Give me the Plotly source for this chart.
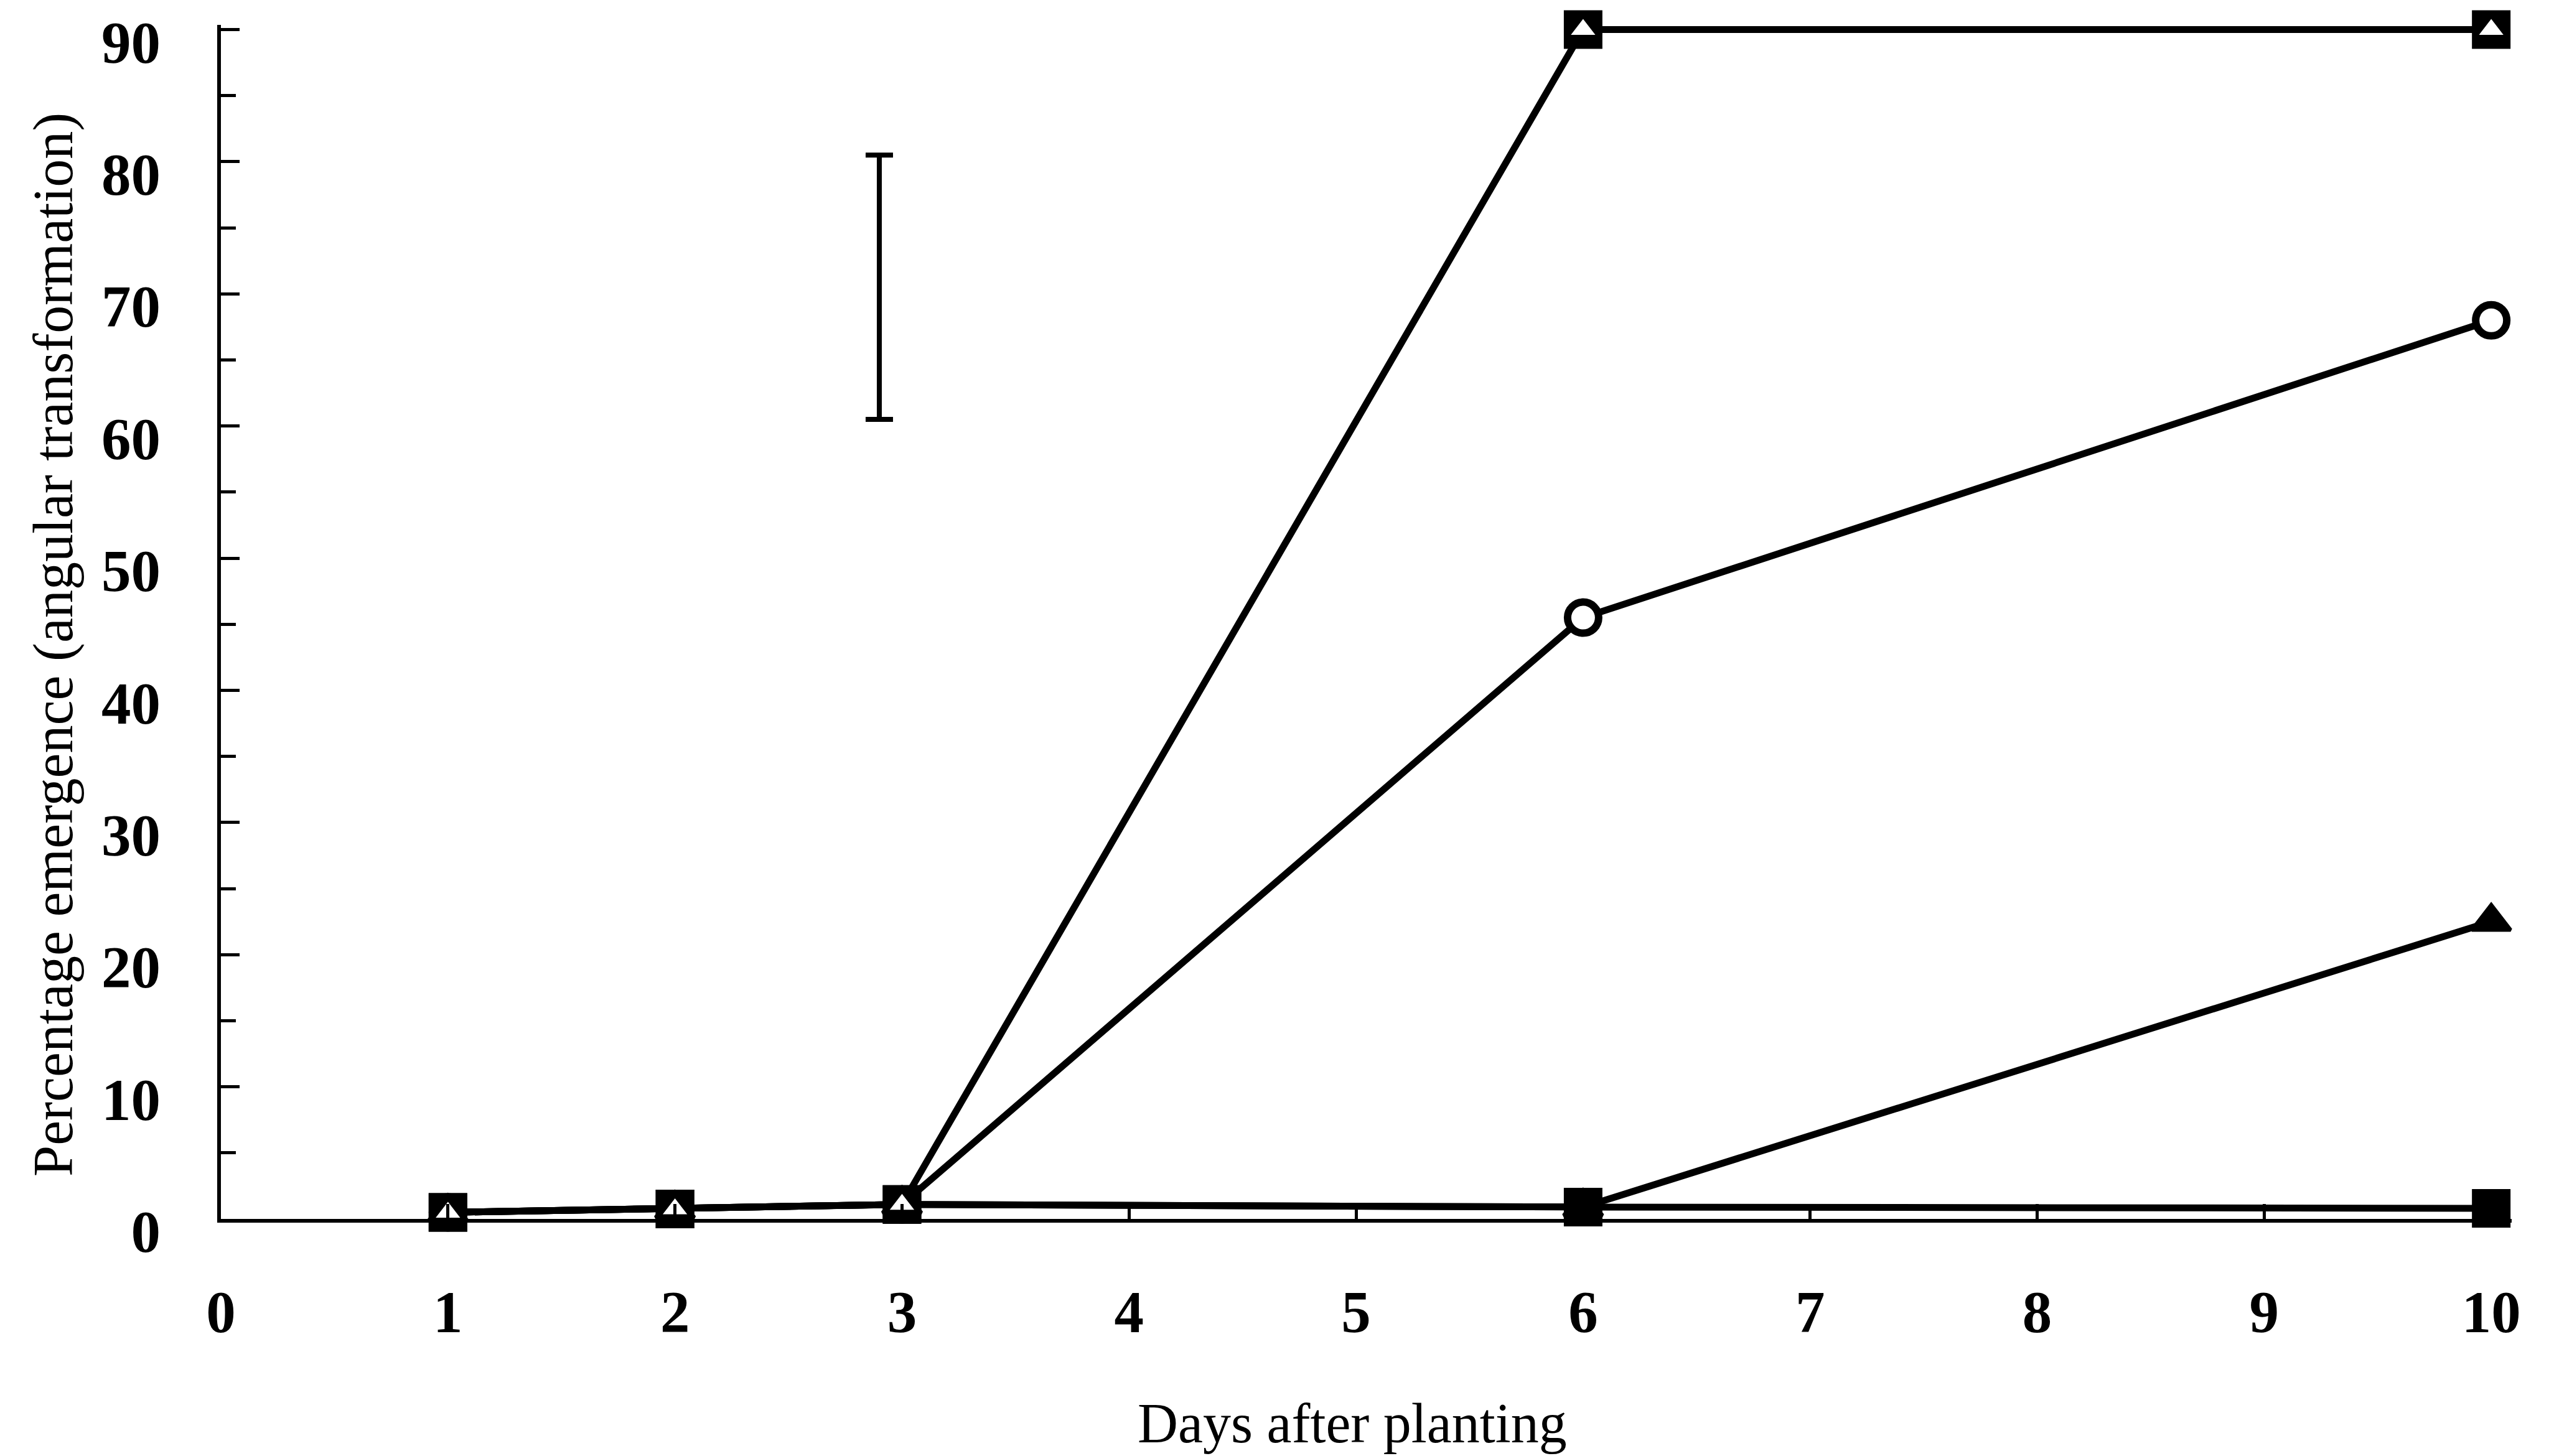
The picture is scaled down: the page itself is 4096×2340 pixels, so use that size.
import plotly.graph_objects as go

# ---- data ----
days = [1, 2, 3, 6, 10]
open_circle = [0.5, 0.75, 1.1, 45.5, 68.0]
filled_triangle = [0.5, 0.75, 1.1, 0.9, 22.5]
filled_square = [0.5, 0.75, 1.1, 0.9, 0.8]
open_square = [0.5, 0.75, 1.1, 90.0, 90.0]
open_triangle = [0.5, 0.75, 1.1, 90.0, 90.0]

lsd_x = [2.9]
lsd_mid = [70.5]
lsd_half = [10.0]

x_ticks = list(range(0, 11))
y_ticks = list(range(0, 91, 10))
y_minor = list(range(5, 90, 10))

x_title = "Days after planting"
y_title = "Percentage emergence (angular transformation)"

FONT = "Liberation Serif"
LW = 11

fig = go.Figure()

fig.add_trace(go.Scatter(
    x=days, y=open_circle, mode="lines+markers", name="○",
    line=dict(color="black", width=LW),
    marker=dict(symbol="circle", size=50, color="white",
                line=dict(color="black", width=12)),
    cliponaxis=False))

fig.add_trace(go.Scatter(
    x=days, y=filled_triangle, mode="lines+markers", name="▲",
    line=dict(color="black", width=LW),
    marker=dict(symbol="triangle-up", size=54, color="black",
                line=dict(color="black", width=6)),
    cliponaxis=False))

fig.add_trace(go.Scatter(
    x=days, y=filled_square, mode="lines+markers", name="■",
    line=dict(color="black", width=LW),
    marker=dict(symbol="square", size=60, color="black",
                line=dict(color="black", width=2)),
    cliponaxis=False))

fig.add_trace(go.Scatter(
    x=days, y=open_square, mode="lines+markers", name="□",
    line=dict(color="black", width=LW),
    marker=dict(symbol="square", size=24, color="white",
                line=dict(color="black", width=38)),
    cliponaxis=False))

fig.add_trace(go.Scatter(
    x=days, y=open_triangle, mode="markers", name="△",
    marker=dict(symbol="triangle-up", size=34, color="white",
                line=dict(color="white", width=0)),
    cliponaxis=False))

fig.add_trace(go.Scatter(
    x=lsd_x, y=lsd_mid, mode="markers", name="LSD",
    marker=dict(size=1, color="rgba(0,0,0,0)"),
    error_y=dict(type="data", array=lsd_half, visible=True,
                 color="black", thickness=8, width=22),
    cliponaxis=False))

tick_font = dict(family=FONT, size=95, color="black", weight="bold")

fig.update_layout(
    width=4096, height=2340,
    margin=dict(l=355, r=60, t=40, b=381, autoexpand=False),
    paper_bgcolor="white", plot_bgcolor="white",
    showlegend=False,
    xaxis=dict(
        range=[0, 10.09], tickmode="array", tickvals=x_ticks,
        ticktext=[str(v) for v in x_ticks],
        ticks="inside", ticklen=24, tickwidth=5, tickcolor="black",
        showline=True, linewidth=6, linecolor="black",
        showgrid=False, zeroline=False, automargin=False,
        tickfont=tick_font, ticklabelstandoff=62,
        ticklabeloverflow="allow",
    ),
    yaxis=dict(
        range=[0, 90.35], tickmode="array", tickvals=y_ticks,
        ticktext=[str(v) for v in y_ticks],
        ticks="inside", ticklen=30, tickwidth=5, tickcolor="black",
        minor=dict(tickmode="array", tickvals=y_minor,
                   ticks="inside", ticklen=24, tickwidth=5, tickcolor="black"),
        showline=True, linewidth=6, linecolor="black",
        showgrid=False, zeroline=False, automargin=False,
        tickfont=tick_font, ticklabelstandoff=72, ticklabelshift=20,
        ticklabeloverflow="allow",
    ),
    annotations=[
        dict(text=x_title, xref="paper", yref="paper",
             x=0.4939, y=-0.171, xanchor="center", yanchor="middle",
             showarrow=False, font=dict(family=FONT, size=90, color="black")),
        dict(text=y_title, xref="paper", yref="paper",
             x=-0.0731, y=0.481, xanchor="center", yanchor="middle",
             textangle=-90, showarrow=False,
             font=dict(family=FONT, size=90, color="black")),
    ],
)

fig.write_html("out.html")
